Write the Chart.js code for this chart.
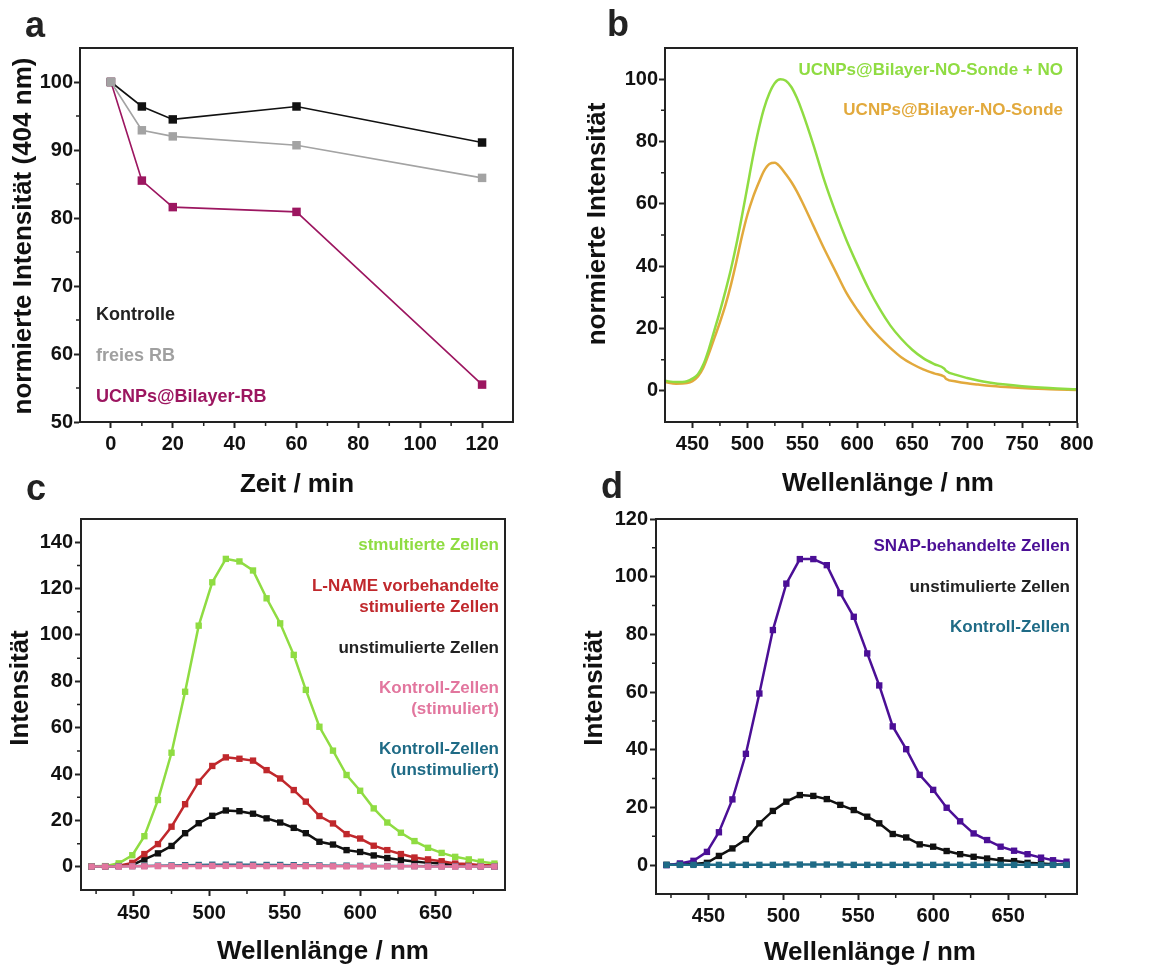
<!DOCTYPE html>
<html>
<head>
<meta charset="utf-8">
<script src="https://cdn.jsdelivr.net/npm/chart.js@4.4.1/dist/chart.umd.min.js"></script>
<style>
  html, body { margin: 0; padding: 0; background: #fff; }
  #wrap { position: relative; width: 1149px; height: 967px; }
  #wrap canvas { position: absolute; left: 0; top: 0; }
</style>
</head>
<body>
<div id="wrap">
  <canvas id="chartA" width="1149" height="967"></canvas>
  <canvas id="chartB" width="1149" height="967"></canvas>
  <canvas id="chartC" width="1149" height="967"></canvas>
  <canvas id="chartD" width="1149" height="967"></canvas>
</div>
<script>
// ---- panel a: bleaching over time
const aTimes = [0, 10, 20, 60, 120];
const aKontrolle = [100, 96.4, 94.5, 96.4, 91.1];
const aFreiesRB = [100, 92.9, 92.0, 90.7, 85.9];
const aUcnpRB = [100, 85.5, 81.6, 80.9, 55.5];
const aXTicks = [0, 20, 40, 60, 80, 100, 120];
const aXMinor = [10, 30, 50, 70, 90, 110];
const aYTicks = [50, 60, 70, 80, 90, 100];
const aYMinor = [55, 65, 75, 85, 95];

// ---- panel b: emission spectra
const bWavelengths = [425, 435, 445, 450, 455, 460, 465, 470, 475, 480, 485, 490, 495, 500, 505, 510, 515, 520, 525, 530, 535, 540, 545, 550, 560, 570, 580, 590, 600, 610, 620, 630, 640, 650, 660, 670, 679, 681, 690, 700, 710, 720, 735, 750, 775, 800];
const bProbeNO = [3.2, 2.8, 3.1, 3.9, 5.3, 8.5, 13.5, 19.5, 25.5, 32, 39, 47, 56, 65.5, 75, 83.5, 90.5, 95.5, 98.8, 100, 99.5, 97.5, 94, 89.5, 79, 67.5, 57.5, 48.5, 40.5, 33, 26.5, 21, 16.7, 13.2, 10.5, 8.6, 7.2, 6.4, 5.1, 4.1, 3.3, 2.7, 2.0, 1.5, 0.9, 0.5];
const bProbe = [2.8, 2.3, 2.5, 3.1, 4.6, 7.5, 12, 17, 22, 27.5, 34, 41.5, 49.5, 56.5, 62, 66.5, 70.5, 72.8, 73.2, 71.8, 69.5, 67, 64, 60.5, 53, 45.5, 38.5, 31.5, 26, 21.2, 17.2, 13.8, 10.8, 8.6, 6.9, 5.6, 4.6, 3.8, 3.0, 2.4, 2.0, 1.6, 1.2, 0.9, 0.5, 0.3];
const bXTicks = [450, 500, 550, 600, 650, 700, 750, 800];
const bXMinor = [475, 525, 575, 625, 675, 725, 775];
const bYTicks = [0, 20, 40, 60, 80, 100];
const bYMinor = [10, 30, 50, 70, 90];

// ---- panels c and d: cell spectra
const cdWavelengths = [422, 431, 440, 449, 457, 466, 475, 484, 493, 502, 511, 520, 529, 538, 547, 556, 564, 573, 582, 591, 600, 609, 618, 627, 636, 645, 654, 663, 672, 680, 689];
const cStimuliert = [0.2, 0.3, 1.5, 5, 13.2, 28.8, 49.2, 75.5, 104, 122.7, 132.8, 131.7, 127.8, 115.8, 105, 91.4, 76.3, 60.4, 50.1, 39.6, 32.8, 25.2, 19.1, 14.7, 11.1, 8.2, 6.0, 4.3, 3.2, 2.2, 1.4];
const cLName = [0.1, 0.2, 0.5, 1.7, 5.5, 9.8, 17.3, 27, 36.7, 43.5, 47.2, 46.6, 45.8, 41.7, 38.1, 33.1, 28.1, 21.9, 18.7, 14.1, 12.2, 9.1, 7.2, 5.5, 4.0, 3.2, 2.4, 1.4, 1.2, 0.7, 0.7];
const unstimuliert = [0.1, 0.2, 0.4, 0.8, 3.2, 5.8, 9.0, 14.5, 18.8, 22.0, 24.3, 24.0, 22.9, 20.9, 19.1, 16.8, 14.5, 10.8, 9.6, 7.2, 6.4, 4.9, 3.8, 2.9, 2.3, 1.7, 1.4, 0.8, 0.6, 0.35, 0.2];
const cKontrollStim = [0.1, 0.1, 0.1, 0.2, 0.2, 0.3, 0.3, 0.3, 0.3, 0.4, 0.4, 0.4, 0.4, 0.3, 0.3, 0.3, 0.3, 0.3, 0.2, 0.2, 0.2, 0.2, 0.2, 0.2, 0.2, 0.1, 0.1, 0.1, 0.1, 0.1, 0.1];
const cKontrollUnstim = [0.1, 0.1, 0.2, 0.3, 0.4, 0.5, 0.6, 0.7, 0.8, 0.9, 0.9, 0.9, 0.9, 0.8, 0.8, 0.7, 0.6, 0.6, 0.5, 0.5, 0.4, 0.4, 0.3, 0.3, 0.3, 0.2, 0.2, 0.2, 0.2, 0.1, 0.1];
const dSnap = [0, 0.6, 1.5, 4.6, 11.4, 22.8, 38.6, 59.5, 81.5, 97.6, 106.1, 106.1, 104, 94.3, 86.1, 73.4, 62.3, 48.1, 40.2, 31.3, 26.1, 19.9, 15.2, 11.0, 8.7, 6.4, 5.0, 3.8, 2.6, 1.7, 1.2];
const dKontroll = [0.1, 0.1, 0.1, 0.1, 0.1, 0.1, 0.1, 0.1, 0.1, 0.2, 0.2, 0.2, 0.2, 0.2, 0.1, 0.1, 0.1, 0.1, 0.1, 0.1, 0.1, 0.1, 0.1, 0.1, 0.1, 0.1, 0.1, 0.1, 0.1, 0.1, 0.1];
const cdXTicks = [450, 500, 550, 600, 650];
const cdXMinor = [425, 475, 525, 575, 625, 675];
const cYTicks = [0, 20, 40, 60, 80, 100, 120, 140];
const cYMinor = [10, 30, 50, 70, 90, 110, 130];
const dYTicks = [0, 20, 40, 60, 80, 100, 120];
const dYMinor = [10, 30, 50, 70, 90, 110];

const FAMILY = "'Liberation Sans', Arial, sans-serif";
const AXIS_COL = '#222';
const W = 1149, H = 967;
const Y_AXIS_W = 60, X_AXIS_H = 40;

// frame, minor ticks and free text (panel letter, axis titles, labels)
const pageText = {
  id: 'pageText',
  afterDraw(chart, args, opts) {
    const ctx = chart.ctx;
    const a = chart.chartArea;
    const sx = chart.scales.x, sy = chart.scales.y;
    ctx.save();
    ctx.strokeStyle = AXIS_COL;
    ctx.lineWidth = 2;
    ctx.strokeRect(a.left, a.top, a.right - a.left, a.bottom - a.top);
    ctx.lineWidth = 1.5;
    ctx.beginPath();
    (opts.minorX || []).forEach(v => {
      const px = sx.getPixelForValue(v);
      ctx.moveTo(px, a.bottom); ctx.lineTo(px, a.bottom + 4);
    });
    (opts.minorY || []).forEach(v => {
      const py = sy.getPixelForValue(v);
      ctx.moveTo(a.left - 4, py); ctx.lineTo(a.left, py);
    });
    ctx.stroke();
    (opts.items || []).forEach(it => {
      ctx.save();
      ctx.font = 'bold ' + it.size + 'px ' + FAMILY;
      ctx.fillStyle = it.color || '#111';
      ctx.textAlign = it.align || 'center';
      ctx.textBaseline = 'middle';
      ctx.translate(it.x, it.y);
      if (it.rotate) ctx.rotate(-Math.PI / 2);
      ctx.fillText(it.text, 0, 0);
      ctx.restore();
    });
    ctx.restore();
  }
};

function scale(min, max, major, isX, pad) {
  return {
    type: 'linear', min, max,
    afterBuildTicks: s => { s.ticks = major.map(v => ({ value: v })); },
    afterFit: s => { if (isX) s.height = X_AXIS_H; else s.width = Y_AXIS_W; },
    ticks: {
      font: { family: FAMILY, size: 20, weight: 'bold' },
      color: '#111', padding: pad, autoSkip: false, maxRotation: 0,
      callback: v => String(v)
    },
    grid: { drawOnChartArea: false, drawTicks: true, tickLength: 6, tickWidth: 2, tickColor: AXIS_COL },
    border: { display: true, color: AXIS_COL, width: 2 }
  };
}

function pts(xs, ys) {
  return xs.map((x, i) => ({ x, y: ys[i] }));
}

function panel(id, area, xs, ys, datasets, text) {
  new Chart(document.getElementById(id), {
    type: 'line',
    data: { datasets },
    options: {
      responsive: false,
      animation: false,
      devicePixelRatio: 1,
      layout: {
        padding: {
          left: area.l - Y_AXIS_W, top: area.t,
          right: W - area.r, bottom: H - area.b - X_AXIS_H
        }
      },
      scales: { x: xs, y: ys },
      plugins: { legend: { display: false }, tooltip: { enabled: false }, pageText: text }
    },
    plugins: [pageText]
  });
}

function marked(label, data, color, radius, width) {
  return {
    label, data, borderColor: color, backgroundColor: color,
    pointStyle: 'rect', pointRadius: radius, pointBorderWidth: 0,
    borderWidth: width, tension: 0
  };
}

function smooth(label, data, color) {
  return {
    label, data, borderColor: color, backgroundColor: color,
    pointRadius: 0, borderWidth: 2.5, cubicInterpolationMode: 'monotone'
  };
}

const COL = {
  black: '#111111', grey: '#a3a3a3', magenta: '#9c1660',
  green: '#8fdc42', orange: '#e2a93c', red: '#c0282c',
  pink: '#e2769e', teal: '#1f6b86', purple: '#4b0f96'
};

// a
panel('chartA', { l: 80, t: 48, r: 513, b: 422 },
  scale(-10, 130, aXTicks, true, 4),
  scale(50, 105, aYTicks, false, 1),
  [
    marked('freies RB', pts(aTimes, aFreiesRB), COL.grey, 6, 1.6),
    marked('Kontrolle', pts(aTimes, aKontrolle), COL.black, 6, 1.6),
    marked('UCNPs@Bilayer-RB', pts(aTimes, aUcnpRB), COL.magenta, 6, 1.6)
  ],
  {
    minorX: aXMinor, minorY: aYMinor,
    items: [
      { text: 'a', x: 35, y: 27, size: 36, color: '#222' },
      { text: 'normierte Intensität (404 nm)', x: 24, y: 236, size: 26, rotate: true },
      { text: 'Zeit / min', x: 297, y: 485, size: 26 },
      { text: 'Kontrolle', x: 96, y: 315, size: 18, align: 'left', color: '#222' },
      { text: 'freies RB', x: 96, y: 356, size: 18, align: 'left', color: '#a0a0a0' },
      { text: 'UCNPs@Bilayer-RB', x: 96, y: 397, size: 18, align: 'left', color: COL.magenta }
    ]
  });

// b
panel('chartB', { l: 665, t: 48, r: 1077, b: 422 },
  scale(425, 800, bXTicks, true, 4),
  scale(-10, 110, bYTicks, false, 1),
  [
    smooth('UCNPs@Bilayer-NO-Sonde + NO', pts(bWavelengths, bProbeNO), COL.green),
    smooth('UCNPs@Bilayer-NO-Sonde', pts(bWavelengths, bProbe), COL.orange)
  ],
  {
    minorX: bXMinor, minorY: bYMinor,
    items: [
      { text: 'b', x: 618, y: 26, size: 36, color: '#222' },
      { text: 'normierte Intensität', x: 598, y: 224, size: 26, rotate: true },
      { text: 'Wellenlänge / nm', x: 888, y: 484, size: 26 },
      { text: 'UCNPs@Bilayer-NO-Sonde + NO', x: 1063, y: 70, size: 17, align: 'right', color: COL.green },
      { text: 'UCNPs@Bilayer-NO-Sonde', x: 1063, y: 110, size: 17, align: 'right', color: COL.orange }
    ]
  });

// c
panel('chartC', { l: 81, t: 519, r: 505, b: 890 },
  scale(415, 696, cdXTicks, true, 5),
  scale(-10, 150, cYTicks, false, 2),
  [
    marked('Kontroll-Zellen (stimuliert)', pts(cdWavelengths, cKontrollStim), COL.pink, 4.5, 2.5),
    marked('Kontroll-Zellen (unstimuliert)', pts(cdWavelengths, cKontrollUnstim), COL.teal, 4.5, 2.5),
    marked('stmultierte Zellen', pts(cdWavelengths, cStimuliert), COL.green, 4.5, 2.5),
    marked('L-NAME vorbehandelte stimulierte Zellen', pts(cdWavelengths, cLName), COL.red, 4.5, 2.5),
    marked('unstimulierte Zellen', pts(cdWavelengths, unstimuliert), COL.black, 4.5, 2.5)
  ],
  {
    minorX: cdXMinor, minorY: cYMinor,
    items: [
      { text: 'c', x: 36, y: 490, size: 36, color: '#222' },
      { text: 'Intensität', x: 21, y: 688, size: 26, rotate: true },
      { text: 'Wellenlänge / nm', x: 323, y: 952, size: 26 },
      { text: 'stmultierte Zellen', x: 499, y: 545, size: 17, align: 'right', color: COL.green },
      { text: 'L-NAME vorbehandelte', x: 499, y: 586, size: 17, align: 'right', color: COL.red },
      { text: 'stimulierte Zellen', x: 499, y: 607, size: 17, align: 'right', color: COL.red },
      { text: 'unstimulierte Zellen', x: 499, y: 648, size: 17, align: 'right', color: '#222' },
      { text: 'Kontroll-Zellen', x: 499, y: 688, size: 17, align: 'right', color: COL.pink },
      { text: '(stimuliert)', x: 499, y: 709, size: 17, align: 'right', color: COL.pink },
      { text: 'Kontroll-Zellen', x: 499, y: 749, size: 17, align: 'right', color: COL.teal },
      { text: '(unstimuliert)', x: 499, y: 770, size: 17, align: 'right', color: COL.teal }
    ]
  });

// d
panel('chartD', { l: 656, t: 519, r: 1077, b: 894 },
  scale(415, 696, cdXTicks, true, 4),
  scale(-10, 120, dYTicks, false, 2),
  [
    marked('Kontroll-Zellen', pts(cdWavelengths, dKontroll), COL.teal, 4.5, 2.5),
    marked('SNAP-behandelte Zellen', pts(cdWavelengths, dSnap), COL.purple, 4.5, 2.5),
    marked('unstimulierte Zellen', pts(cdWavelengths, unstimuliert), COL.black, 4.5, 2.5)
  ],
  {
    minorX: cdXMinor, minorY: dYMinor,
    items: [
      { text: 'd', x: 612, y: 488, size: 36, color: '#222' },
      { text: 'Intensität', x: 595, y: 688, size: 26, rotate: true },
      { text: 'Wellenlänge / nm', x: 870, y: 953, size: 26 },
      { text: 'SNAP-behandelte Zellen', x: 1070, y: 546, size: 17, align: 'right', color: COL.purple },
      { text: 'unstimulierte Zellen', x: 1070, y: 587, size: 17, align: 'right', color: '#222' },
      { text: 'Kontroll-Zellen', x: 1070, y: 627, size: 17, align: 'right', color: COL.teal }
    ]
  });
</script>
</body>
</html>
